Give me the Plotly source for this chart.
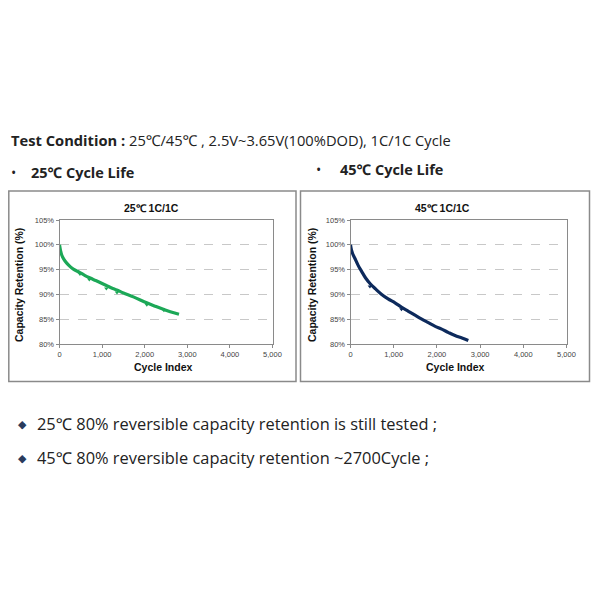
import plotly.graph_objects as go

# ---- data ----
cycles_25 = [0, 25, 50, 100, 170, 250, 325, 480, 600, 720, 850, 1000, 1100, 1250, 1344, 1500, 1734, 2047, 2250, 2437, 2600, 2805]
ret_25 = [100, 98.8, 98.0, 97.1, 96.3, 95.6, 95.1, 94.4, 93.8, 93.3, 92.8, 92.2, 91.8, 91.2, 90.9, 90.3, 89.5, 88.3, 87.6, 87.0, 86.5, 86.0]
mark_cycles_25 = [480, 700, 1100, 1350, 2050, 2450]
mark_ret_25 = [94.1, 93.0, 91.2, 90.4, 87.9, 86.8]

cycles_45 = [0, 20, 50, 100, 180, 260, 350, 451, 580, 722, 870, 1030, 1185, 1340, 1493, 1650, 1801, 1950, 2111, 2270, 2419, 2580, 2727]
ret_45 = [100, 99.0, 98.2, 97.3, 95.8, 94.6, 93.3, 92.2, 91.1, 90.0, 89.1, 88.3, 87.4, 86.6, 85.8, 85.0, 84.3, 83.6, 83.0, 82.3, 81.7, 81.2, 80.7]
mark_cycles_45 = [450, 1180]
mark_ret_45 = [91.6, 87.0]

y_ticks = [80, 85, 90, 95, 100, 105]
y_tick_labels = ["80%", "85%", "90%", "95%", "100%", "105%"]
x_ticks = [0, 1000, 2000, 3000, 4000, 5000]
x_tick_labels = ["0", "1,000", "2,000", "3,000", "4,000", "5,000"]

GREEN = "#1ca857"
NAVY = "#0d2a5c"
OFF = 8  # page body margin
W = 584
H = 580


def px(x):
    return (x - OFF) / W


def py(y):
    return 1 - (y - OFF) / H


fig = go.Figure()
fig.add_trace(go.Scatter(x=cycles_25, y=ret_25, mode="lines", line=dict(color=GREEN, width=3.2, shape="spline"),
                         xaxis="x", yaxis="y", showlegend=False))
fig.add_trace(go.Scatter(x=mark_cycles_25, y=mark_ret_25, mode="markers",
                         marker=dict(color=GREEN, size=4, symbol="triangle-down"),
                         xaxis="x", yaxis="y", showlegend=False))
fig.add_trace(go.Scatter(x=cycles_45, y=ret_45, mode="lines", line=dict(color=NAVY, width=3.2, shape="spline"),
                         xaxis="x2", yaxis="y2", showlegend=False))
fig.add_trace(go.Scatter(x=mark_cycles_45, y=mark_ret_45, mode="markers",
                         marker=dict(color=NAVY, size=4, symbol="triangle-down"),
                         xaxis="x2", yaxis="y2", showlegend=False))

tickfont = dict(family="Liberation Sans, Arial", size=7.5, color="#444")
common_x = dict(range=[0, 5000], tickvals=x_ticks, ticktext=x_tick_labels, showgrid=False, zeroline=False,
                showline=True, linecolor="#8a8a8a", linewidth=1, mirror=True, ticks="outside", ticklen=3,
                tickcolor="#8a8a8a", tickfont=tickfont, automargin=False)
common_y = dict(range=[80, 105], tickvals=y_ticks, ticktext=y_tick_labels, showgrid=True, gridcolor="#c8c8c8",
                griddash="dash", gridwidth=1, zeroline=False, showline=True, linecolor="#8a8a8a", linewidth=1,
                mirror=True, ticks="outside", ticklen=3, tickcolor="#8a8a8a", tickfont=tickfont, automargin=False)

dy = [py(344), py(220)]
fig.update_layout(
    template="none",
    width=W, height=H, margin=dict(l=0, r=0, t=0, b=0, pad=0, autoexpand=False),
    paper_bgcolor="white", plot_bgcolor="white",
    xaxis=dict(domain=[px(59.5), px(272.5)], anchor="y", **common_x),
    yaxis=dict(domain=dy, anchor="x", **common_y),
    xaxis2=dict(domain=[px(350.5), px(566.5)], anchor="y2", **common_x),
    yaxis2=dict(domain=dy, anchor="x2", **common_y),
)

# chart frames
for x0, x1 in [(8.8, 296), (300.5, 589.5)]:
    fig.add_shape(type="rect", xref="paper", yref="paper", x0=px(x0), x1=px(x1), y0=py(381.5), y1=py(191),
                  line=dict(color="#8a8a8a", width=1.5), fillcolor="rgba(0,0,0,0)", layer="below")

afont = "Liberation Sans, Arial"
anns = []
# chart titles
anns.append(dict(text="<b>25℃ 1C/1C</b>", x=px(151), y=py(208), font=dict(family=afont, size=10.5, color="#111")))
anns.append(dict(text="<b>45℃ 1C/1C</b>", x=px(442), y=py(208), font=dict(family=afont, size=10.5, color="#111")))
# axis titles
anns.append(dict(text="<b>Cycle Index</b>", x=px(163), y=py(367), font=dict(family=afont, size=10.5, color="#111")))
anns.append(dict(text="<b>Cycle Index</b>", x=px(455), y=py(367), font=dict(family=afont, size=10.5, color="#111")))
anns.append(dict(text="<b>Capacity Retention (%)</b>", x=px(19), y=py(285), textangle=-90,
                 font=dict(family=afont, size=10.5, color="#111")))
anns.append(dict(text="<b>Capacity Retention (%)</b>", x=px(312), y=py(285), textangle=-90,
                 font=dict(family=afont, size=10.5, color="#111")))
for a in anns:
    a.update(xref="paper", yref="paper", showarrow=False, xanchor="center", yanchor="middle")

tfont = "Open Sans, Noto Sans"
top = [
    dict(text="<b>Test Condition :</b> 25℃/45℃ , 2.5V~3.65V(100%DOD), 1C/1C Cycle", x=px(9), y=py(140), size=14.7),
    dict(text="•", x=px(9), y=py(172), size=14),
    dict(text="<b>25℃ Cycle Life</b>", x=px(29), y=py(172), size=14.5),
    dict(text="•", x=px(314), y=py(169), size=14),
    dict(text="<b>45℃ Cycle Life</b>", x=px(338), y=py(169), size=14.5),
    dict(text="◆", x=px(16), y=py(423), size=11),
    dict(text="25℃ 80% reversible capacity retention is still tested ;", x=px(35), y=py(423), size=16.4),
    dict(text="◆", x=px(16), y=py(457), size=11),
    dict(text="45℃ 80% reversible capacity retention ~2700Cycle ;", x=px(35), y=py(457), size=16.4),
]
for t in top:
    color = "#2a3b5c" if t["text"] == "◆" else "#222"
    anns.append(dict(text=t["text"], x=t["x"], y=t["y"], xref="paper", yref="paper", showarrow=False,
                     xanchor="left", yanchor="middle", font=dict(family=tfont, size=t["size"], color=color)))

fig.update_layout(annotations=anns)
fig.write_html("out.html")
